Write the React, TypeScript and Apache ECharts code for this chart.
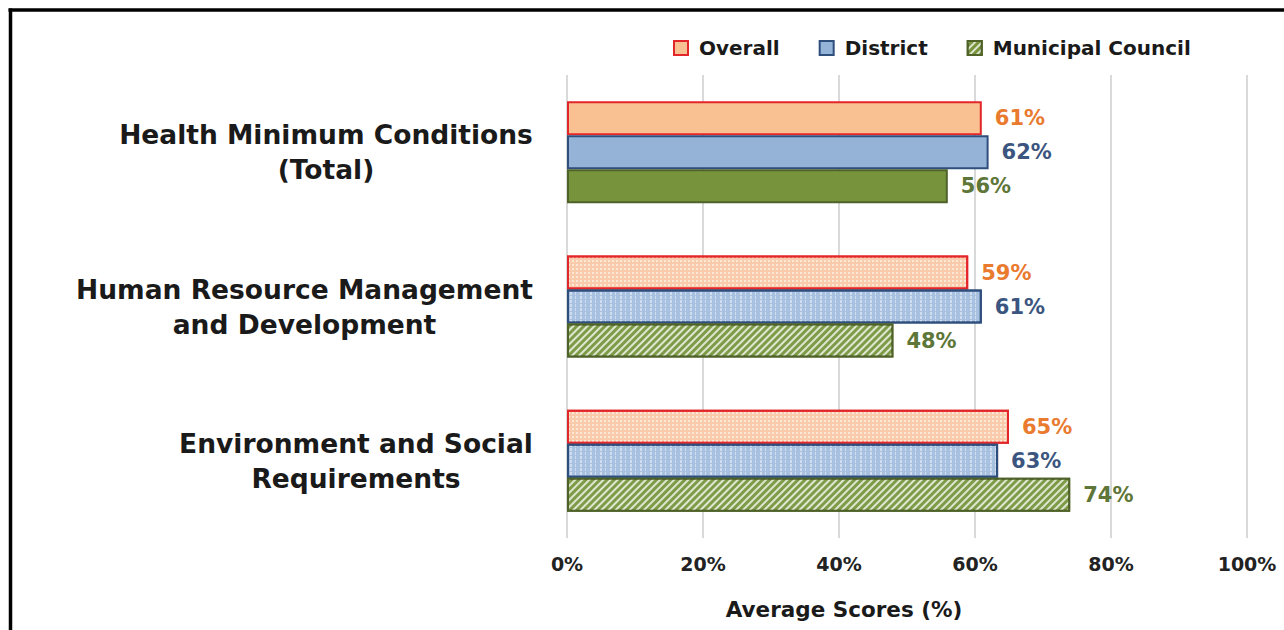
import React, { useEffect, useRef } from "react";
import * as echarts from "echarts";

const categories = [
  "Health Minimum Conditions\n(Total)",
  "Human Resource Management\nand Development",
  "Environment and Social\nRequirements",
];
const seriesNames = ["Overall", "District", "Municipal Council"];
const overall = [61, 59, 65];
const district = [62, 61, 63.4];
const municipal = [56, 48, 74];
const xTicks = [0, 20, 40, 60, 80, 100];

const FONT = '"DejaVu Sans", Verdana, sans-serif';

const dotDecal = {
  symbol: "rect",
  symbolSize: 1,
  color: "rgba(255,255,255,0.55)",
  dashArrayX: [2, 2],
  dashArrayY: [2, 2],
};
const vlineDecal = {
  symbol: "rect",
  symbolSize: 1,
  color: "rgba(255,255,255,0.45)",
  dashArrayX: [[2, 3, 1, 4]],
  dashArrayY: [3, 1],
};
const hatchDecal = {
  symbol: "rect",
  symbolSize: 1,
  color: "rgba(255,255,255,0.75)",
  dashArrayX: [1, 0],
  dashArrayY: [2, 3],
  rotation: -Math.PI / 4,
};

function measure(text: string, size: number) {
  const c = document.createElement("canvas");
  const ctx = c.getContext("2d")!;
  ctx.font = `bold ${size}px ${FONT}`;
  return Math.ceil(ctx.measureText(text).width);
}

export default function App() {
  const ref = useRef<HTMLDivElement>(null);
  useEffect(() => {
    if (!ref.current) return;
    const chart = echarts.init(ref.current, undefined, { renderer: "svg" });
    const labelSize = 26.5;
    const rich: any = {};
    categories.forEach((c, i) => {
      const w = Math.max(...c.split("\n").map((l) => measure(l, labelSize)));
      rich["c" + i] = {
        width: w,
        align: "center",
        fontSize: labelSize,
        fontWeight: "bold",
        fontFamily: FONT,
        color: "#1a1a1a",
        lineHeight: 35,
      };
    });

    const styles = [
      { fill: "#F9C191", pfill: "#F9CBAA", border: "#E3262A", label: "#E97A2E", decal: dotDecal },
      { fill: "#95B3D7", pfill: "#A9C1E0", border: "#2E4E7C", label: "#3B5580", decal: vlineDecal },
      { fill: "#77933C", pfill: "#7E9C48", border: "#4F6228", label: "#5E7637", decal: hatchDecal },
    ];
    const dataSets = [overall, district, municipal];

    const series = dataSets.map((vals, si) => ({
      name: seriesNames[si],
      type: "bar",
      barWidth: 34,
      barGap: "0%",
      itemStyle: {
        color: styles[si].fill,
        borderColor: styles[si].border,
        borderWidth: 2,
      },
      label: {
        show: true,
        position: "right",
        distance: 13,
        formatter: (p: any) => `${Math.round(p.value)}%`,
        color: styles[si].label,
        fontSize: 21,
        fontWeight: "bold",
        fontFamily: FONT,
      },
      data: vals.map((v, i) =>
        i === 0
          ? { value: v }
          : {
              value: v,
              itemStyle: {
                color: styles[si].pfill,
                decal: styles[si].decal,
              },
            }
      ),
    }));

    chart.setOption({
      animation: false,
      backgroundColor: "#fff",
      legend: {
        left: 668,
        top: 33,
        icon: "rect",
        itemWidth: 14,
        itemHeight: 14,
        itemGap: 39,
        textStyle: {
          fontSize: 20,
          fontWeight: "bold",
          fontFamily: FONT,
          color: "#1a1a1a",
          padding: [0, 0, 0, 6],
        },
        data: seriesNames.map((n, i) => ({
          name: n,
          itemStyle: {
            color: styles[i].fill,
            borderColor: styles[i].border,
            borderWidth: 2,
            decal: i === 2 ? hatchDecal : undefined,
          },
        })),
      },
      grid: { left: 567, right: 37, top: 75, bottom: 92 },
      xAxis: {
        type: "value",
        min: xTicks[0],
        max: xTicks[xTicks.length - 1],
        interval: 20,
        axisLine: { show: false },
        axisTick: { show: false },
        splitLine: { show: true, lineStyle: { color: "#D9D9D9", width: 2 } },
        axisLabel: {
          formatter: "{value}%",
          fontSize: 19,
          fontWeight: "bold",
          fontFamily: FONT,
          color: "#222",
          margin: 16,
        },
      },
      yAxis: {
        type: "category",
        inverse: true,
        data: categories,
        axisLine: { show: false },
        axisTick: { show: false },
        axisLabel: {
          margin: 34,
          formatter: (v: string, idx: number) =>
            v
              .split("\n")
              .map((l) => `{c${idx}|${l}}`)
              .join("\n"),
          rich,
        },
      },
      graphic: [
        {
          type: "text",
          x: 844,
          y: 609,
          style: {
            text: "Average Scores (%)",
            fontSize: 21.5,
            fontWeight: "bold",
            fontFamily: FONT,
            fill: "#1a1a1a",
            align: "center",
            verticalAlign: "middle",
          },
        },
        {
          type: "line",
          shape: { x1: 8.5, y1: 10, x2: 1284, y2: 10 },
          style: { stroke: "#000", lineWidth: 3.5 },
        },
        {
          type: "line",
          shape: { x1: 10.5, y1: 8.5, x2: 10.5, y2: 630 },
          style: { stroke: "#000", lineWidth: 3.5 },
        },
      ],
      series,
    });
    return () => chart.dispose();
  }, []);
  return (
    <div
      ref={ref}
      style={{ position: "fixed", left: 0, top: 0, width: 1284, height: 630 }}
    />
  );
}
